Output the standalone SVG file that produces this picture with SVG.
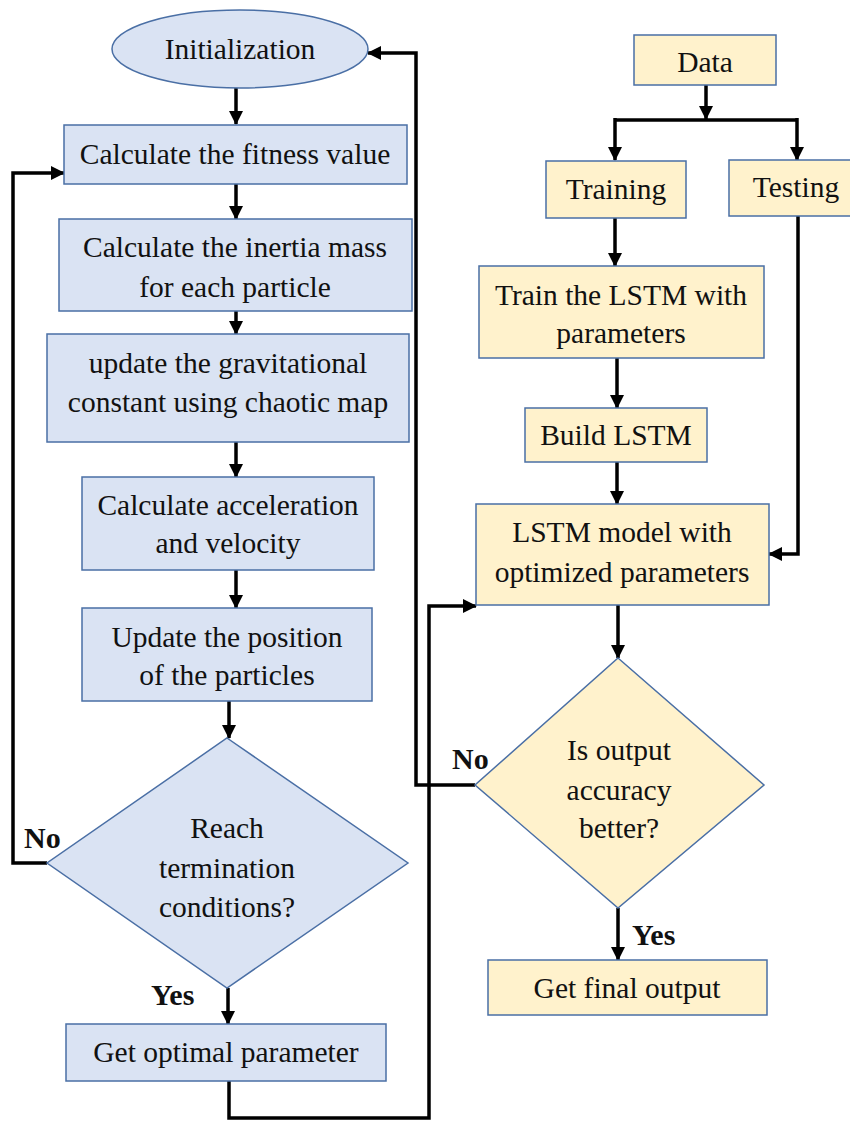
<svg xmlns="http://www.w3.org/2000/svg" width="850" height="1122" viewBox="0 0 850 1122">
<style>
.b{fill:#DAE3F3;stroke:#4A6FA5;stroke-width:1.5}
.y{fill:#FFF2CC;stroke:#4A6FA5;stroke-width:1.5}
.t{font-family:"Liberation Serif","Times New Roman",serif;font-size:29.5px;fill:#111;text-anchor:middle}
.l{font-family:"Liberation Serif","Times New Roman",serif;font-size:30px;font-weight:bold;fill:#111}
.c{fill:none;stroke:#000;stroke-width:3.5}
</style>
<defs>
<marker id="a" markerUnits="userSpaceOnUse" markerWidth="14" markerHeight="14" viewBox="0 0 14 14" refX="13" refY="7" orient="auto">
<path d="M0,0 L14,7 L0,14 Z" fill="#000"/>
</marker>
</defs>
<rect width="850" height="1122" fill="#fff"/>
<g id="connectors">
<path class="c" d="M236,88 V124" marker-end="url(#a)"/>
<path class="c" d="M236,184 V219" marker-end="url(#a)"/>
<path class="c" d="M236,311 V334" marker-end="url(#a)"/>
<path class="c" d="M236,442 V477" marker-end="url(#a)"/>
<path class="c" d="M236,570 V608" marker-end="url(#a)"/>
<path class="c" d="M229,701 V738" marker-end="url(#a)"/>
<path class="c" d="M228,988 V1024" marker-end="url(#a)"/>
<path class="c" d="M229,1081 V1118 H429 V606 H476" marker-end="url(#a)"/>
<path class="c" d="M47,863 H13 V173 H64" marker-end="url(#a)"/>
<path class="c" d="M475,785 H416 V53 H368" marker-end="url(#a)"/>
<path class="c" d="M706,85 V119" marker-end="url(#a)"/>
<path class="c" d="M615,120 H797"/>
<path class="c" d="M615,118 V160" marker-end="url(#a)"/>
<path class="c" d="M797,118 V160" marker-end="url(#a)"/>
<path class="c" d="M615,218 V266" marker-end="url(#a)"/>
<path class="c" d="M617,358 V408" marker-end="url(#a)"/>
<path class="c" d="M617,462 V504" marker-end="url(#a)"/>
<path class="c" d="M798,216 V554 H769" marker-end="url(#a)"/>
<path class="c" d="M618,605 V658" marker-end="url(#a)"/>
<path class="c" d="M618,908 V960" marker-end="url(#a)"/>
</g>
<g id="init"><ellipse class="b" cx="240" cy="49" rx="128" ry="39"/><text class="t" x="240" y="59">Initialization</text></g>
<g id="fitness"><rect class="b" x="64" y="125" width="343" height="59"/><text class="t" x="235" y="164">Calculate the fitness value</text></g>
<g id="inertia"><rect class="b" x="59" y="219" width="353" height="92"/><text class="t" x="235" y="257">Calculate the inertia mass</text><text class="t" x="235" y="297">for each particle</text></g>
<g id="gravity"><rect class="b" x="47" y="334" width="362" height="108"/><text class="t" x="228" y="373">update the gravitational</text><text class="t" x="228" y="412">constant using chaotic map</text></g>
<g id="accel"><rect class="b" x="82" y="477" width="292" height="93"/><text class="t" x="228" y="515">Calculate acceleration</text><text class="t" x="228" y="553">and velocity</text></g>
<g id="position"><rect class="b" x="82" y="608" width="290" height="93"/><text class="t" x="227" y="647">Update the position</text><text class="t" x="227" y="685">of the particles</text></g>
<g id="term"><polygon class="b" points="227,738 408,863 227,988 47,863"/><text class="t" x="227" y="838">Reach</text><text class="t" x="227" y="878">termination</text><text class="t" x="227" y="917">conditions?</text></g>
<g id="optimal"><rect class="b" x="66" y="1024" width="320" height="57"/><text class="t" x="226" y="1062">Get optimal parameter</text></g>
<g id="data"><rect class="y" x="634" y="35" width="142" height="50"/><text class="t" x="705" y="72">Data</text></g>
<g id="training"><rect class="y" x="546" y="161" width="140" height="57"/><text class="t" x="616" y="199">Training</text></g>
<g id="testing"><rect class="y" x="729" y="160" width="125" height="56"/><text class="t" x="796" y="197">Testing</text></g>
<g id="train"><rect class="y" x="479" y="266" width="285" height="92"/><text class="t" x="621" y="305">Train the LSTM with</text><text class="t" x="621" y="343">parameters</text></g>
<g id="build"><rect class="y" x="525" y="408" width="182" height="54"/><text class="t" x="616" y="445">Build LSTM</text></g>
<g id="model"><rect class="y" x="476" y="504" width="293" height="101"/><text class="t" x="622" y="542">LSTM model with</text><text class="t" x="622" y="582">optimized parameters</text></g>
<g id="accuracy"><polygon class="y" points="618,658 764,785 618,908 475,785"/><text class="t" x="619" y="760">Is output</text><text class="t" x="619" y="800">accuracy</text><text class="t" x="619" y="838">better?</text></g>
<g id="final"><rect class="y" x="488" y="960" width="279" height="55"/><text class="t" x="627" y="998">Get final output</text></g>
<g id="labels">
<text class="l" x="24" y="848">No</text>
<text class="l" x="151" y="1005">Yes</text>
<text class="l" x="452" y="769">No</text>
<text class="l" x="632" y="945">Yes</text>
</g>
</svg>
